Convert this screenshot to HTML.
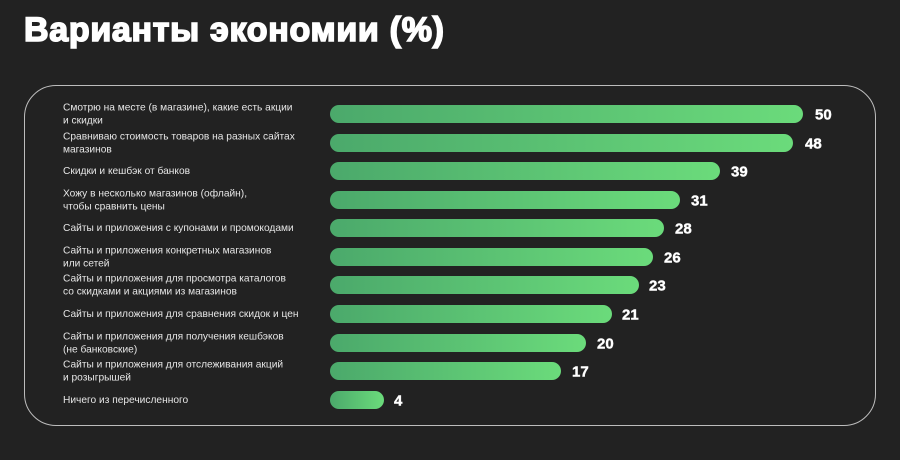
<!DOCTYPE html>
<html><head><meta charset="utf-8"><style>
body{margin:0;width:900px;height:460px;background:#222222;overflow:hidden;font-family:"Liberation Sans","DejaVu Sans",sans-serif;position:relative}
.t{position:absolute;left:24px;top:11px;font-size:34px;font-weight:bold;color:#fff;-webkit-text-stroke:1.6px #fff;letter-spacing:0.7px;white-space:nowrap}
.box{position:absolute;left:24px;top:85px;width:850px;height:339px;border:1.3px solid #bdbdbd;border-radius:32px}
.l{position:absolute;left:63px;color:#e6e6e6;font-size:10.2px;line-height:12.5px;transform:translateY(-50%);margin-top:1px}
.b{position:absolute;left:330px;height:18px;border-radius:9px;background:linear-gradient(90deg,#4ba96b,#6bdb7b);transform:translateY(-50%)}
.v{position:absolute;color:#fff;font-weight:bold;font-size:15px;transform:translateY(-50%);-webkit-text-stroke:0.4px #fff}
</style></head><body>
<div class="t">Варианты экономии (%)</div>
<div class="box"></div>

<div class="l" style="top:114px">Смотрю на месте (в магазине), какие есть акции<br>и скидки</div>
<div class="b" style="top:114px;width:473px"></div><div class="v" style="top:115px;left:815px">50</div>

<div class="l" style="top:143px">Сравниваю стоимость товаров на разных сайтах<br>магазинов</div>
<div class="b" style="top:143px;width:463px"></div><div class="v" style="top:144px;left:805px">48</div>

<div class="l" style="top:171px">Скидки и кешбэк от банков</div>
<div class="b" style="top:171px;width:390px"></div><div class="v" style="top:172px;left:731px">39</div>

<div class="l" style="top:200px">Хожу в несколько магазинов (офлайн),<br>чтобы сравнить цены</div>
<div class="b" style="top:200px;width:350px"></div><div class="v" style="top:201px;left:691px">31</div>

<div class="l" style="top:228px">Сайты и приложения с купонами и промокодами</div>
<div class="b" style="top:228px;width:334px"></div><div class="v" style="top:229px;left:675px">28</div>

<div class="l" style="top:257px">Сайты и приложения конкретных магазинов<br>или сетей</div>
<div class="b" style="top:257px;width:323px"></div><div class="v" style="top:258px;left:664px">26</div>

<div class="l" style="top:285px">Сайты и приложения для просмотра каталогов<br>со скидками и акциями из магазинов</div>
<div class="b" style="top:285px;width:309px"></div><div class="v" style="top:286px;left:649px">23</div>

<div class="l" style="top:314px">Сайты и приложения для сравнения скидок и цен</div>
<div class="b" style="top:314px;width:282px"></div><div class="v" style="top:315px;left:622px">21</div>

<div class="l" style="top:343px">Сайты и приложения для получения кешбэков<br>(не банковские)</div>
<div class="b" style="top:343px;width:256px"></div><div class="v" style="top:344px;left:597px">20</div>

<div class="l" style="top:371px">Сайты и приложения для отслеживания акций<br>и розыгрышей</div>
<div class="b" style="top:371px;width:231px"></div><div class="v" style="top:372px;left:572px">17</div>

<div class="l" style="top:400px">Ничего из перечисленного</div>
<div class="b" style="top:400px;width:54px"></div><div class="v" style="top:401px;left:394px">4</div>
</body></html>
